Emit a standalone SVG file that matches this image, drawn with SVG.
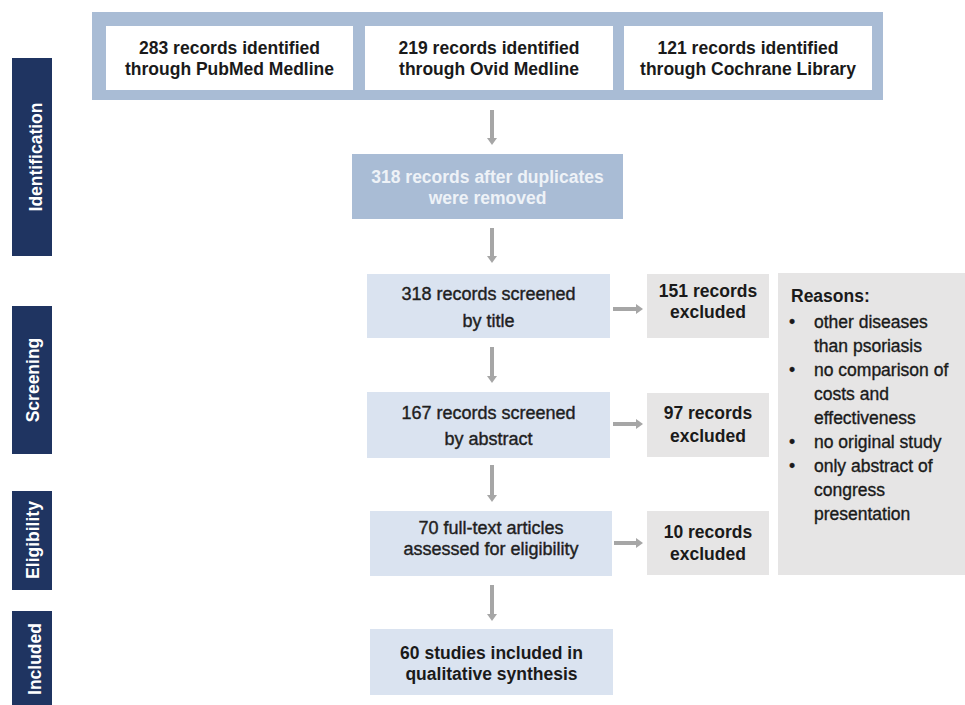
<svg xmlns="http://www.w3.org/2000/svg" width="965" height="705" viewBox="0 0 965 705">
<style>
.t{font-family:"Liberation Sans",Arial,sans-serif;font-size:17.5px;fill:#1a1a1a;text-anchor:middle}
.b{font-weight:bold}
.r{font-family:"Liberation Sans",Arial,sans-serif;font-size:18px;fill:#1f1f1f;stroke:#1f1f1f;stroke-width:0.4;text-anchor:middle}
.side{font-family:"Liberation Sans",Arial,sans-serif;font-size:17.5px;font-weight:bold;fill:#ffffff;text-anchor:middle}
.bar{fill:#1f3461}
.lb{fill:#dae3f0}
.gr{fill:#e6e5e5}
.rs{font-family:"Liberation Sans",Arial,sans-serif;font-size:17.5px;fill:#1a1a1a;stroke:#1a1a1a;stroke-width:0.35}
.rs.b{stroke:none}
.con{stroke:#a6a6a6;stroke-width:4;fill:none;marker-end:url(#ah)}
</style>
<defs>
<marker id="ah" viewBox="0 0 7 10" refX="1" refY="5" markerWidth="7" markerHeight="10" markerUnits="userSpaceOnUse" orient="auto">
<path d="M0,0 L7,5 L0,10 z" fill="#a6a6a6"/>
</marker>
</defs>
<rect width="965" height="705" fill="#ffffff"/>

<g id="phase-identification">
<rect class="bar" x="12" y="58" width="40" height="198"/>
<text class="side" transform="translate(42,157) rotate(-90)">Identification</text>
</g>
<g id="phase-screening">
<rect class="bar" x="12" y="306" width="40" height="148"/>
<text class="side" transform="translate(38.5,380) rotate(-90)">Screening</text>
</g>
<g id="phase-eligibility">
<rect class="bar" x="12" y="491" width="40" height="99"/>
<text class="side" transform="translate(38.5,540) rotate(-90)">Eligibility</text>
</g>
<g id="phase-included">
<rect class="bar" x="12" y="611" width="40" height="94"/>
<text class="side" transform="translate(41,659) rotate(-90)">Included</text>
</g>

<g id="sources">
<rect x="92" y="12" width="791" height="88" fill="#a9bcd5"/>
<g id="pubmed">
<rect x="106" y="26" width="247" height="64" fill="#ffffff"/>
<text class="t b" x="229.5" y="54">283 records identified</text>
<text class="t b" x="229.5" y="75">through PubMed Medline</text>
</g>
<g id="ovid">
<rect x="365" y="26" width="248" height="64" fill="#ffffff"/>
<text class="t b" x="489" y="54">219 records identified</text>
<text class="t b" x="489" y="75">through Ovid Medline</text>
</g>
<g id="cochrane">
<rect x="624" y="26" width="248" height="64" fill="#ffffff"/>
<text class="t b" x="748" y="54">121 records identified</text>
<text class="t b" x="748" y="75">through Cochrane Library</text>
</g>
</g>

<g id="deduplicated">
<rect x="352" y="154" width="271" height="65" fill="#a9bcd5"/>
<text class="t b" x="487.5" y="183" style="fill:#eef2f7">318 records after duplicates</text>
<text class="t b" x="487.5" y="204" style="fill:#eef2f7">were removed</text>
</g>

<g id="screened-title">
<rect class="lb" x="367" y="274" width="243" height="64"/>
<text class="r" x="488.5" y="300">318 records screened</text>
<text class="r" x="488.5" y="327">by title</text>
</g>
<g id="excluded-151">
<rect class="gr" x="647" y="274" width="122" height="64"/>
<text class="t b" x="708" y="297">151 records</text>
<text class="t b" x="708" y="318">excluded</text>
</g>

<g id="screened-abstract">
<rect class="lb" x="367" y="392" width="243" height="66"/>
<text class="r" x="488.5" y="419">167 records screened</text>
<text class="r" x="488.5" y="445">by abstract</text>
</g>
<g id="excluded-97">
<rect class="gr" x="647" y="393" width="122" height="64"/>
<text class="t b" x="708" y="419">97 records</text>
<text class="t b" x="708" y="442">excluded</text>
</g>

<g id="full-text">
<rect class="lb" x="370" y="511" width="242" height="65"/>
<text class="r" x="491" y="534">70 full-text articles</text>
<text class="r" x="491" y="555">assessed for eligibility</text>
</g>
<g id="excluded-10">
<rect class="gr" x="647" y="511" width="122" height="64"/>
<text class="t b" x="708" y="538">10 records</text>
<text class="t b" x="708" y="560">excluded</text>
</g>

<g id="reasons">
<rect class="gr" x="778" y="273" width="187" height="302"/>
<text class="rs b" x="791" y="302">Reasons:</text>
<text class="rs" x="789" y="328">•</text>
<text class="rs" x="814" y="328">other diseases</text>
<text class="rs" x="814" y="352">than psoriasis</text>
<text class="rs" x="789" y="376">•</text>
<text class="rs" x="814" y="376">no comparison of</text>
<text class="rs" x="814" y="400">costs and</text>
<text class="rs" x="814" y="424">effectiveness</text>
<text class="rs" x="789" y="448">•</text>
<text class="rs" x="814" y="448">no original study</text>
<text class="rs" x="789" y="472">•</text>
<text class="rs" x="814" y="472">only abstract of</text>
<text class="rs" x="814" y="496">congress</text>
<text class="rs" x="814" y="520">presentation</text>
</g>

<g id="included">
<rect class="lb" x="370" y="629" width="243" height="66"/>
<text class="t b" x="491.5" y="659">60 studies included in</text>
<text class="t b" x="491.5" y="680">qualitative synthesis</text>
</g>

<g id="connectors">
<line class="con" x1="492" y1="110" x2="492" y2="139"/>
<line class="con" x1="492" y1="228" x2="492" y2="257"/>
<line class="con" x1="492" y1="347" x2="492" y2="377"/>
<line class="con" x1="492" y1="465" x2="492" y2="496"/>
<line class="con" x1="492" y1="585" x2="492" y2="615"/>
<line class="con" x1="613" y1="309" x2="637" y2="309"/>
<line class="con" x1="613" y1="424" x2="637" y2="424"/>
<line class="con" x1="614" y1="543" x2="637" y2="543"/>
</g>
</svg>
